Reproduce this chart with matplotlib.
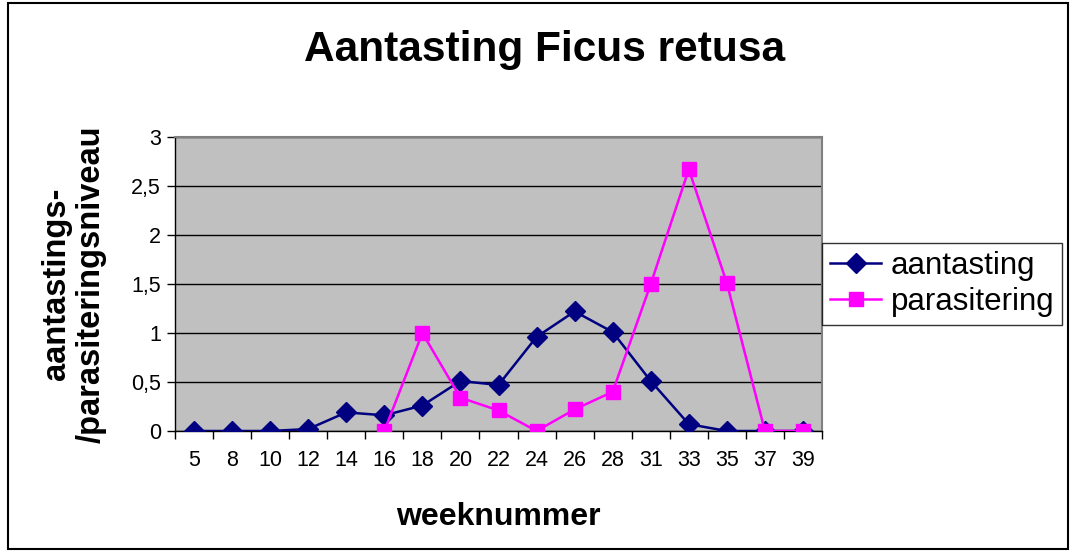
import numpy as np
import matplotlib.pyplot as plt
from matplotlib.patches import Rectangle

plt.rcParams['font.family'] = ['Liberation Sans', 'DejaVu Sans']

# week numbers (categories)
weeks = ['5', '8', '10', '12', '14', '16', '18', '20', '22', '24', '26', '28', '31', '33', '35', '37', '39']
# infestation level, all weeks
aantasting = [0, 0, 0, 0.02, 0.19, 0.16, 0.26, 0.51, 0.47, 0.96, 1.22, 1.01, 0.51, 0.07, 0, 0, 0]
# parasitism level, starts at week 16
parasitering = [np.nan] * 5 + [0, 1.0, 0.34, 0.21, 0, 0.22, 0.40, 1.5, 2.67, 1.51, 0, 0]

fig = plt.figure(figsize=(10.7, 5.51), dpi=100)
ax = fig.add_axes([175 / 1070, 1 - 431 / 551, (822 - 175) / 1070, (431 - 137) / 551])

x = np.arange(len(weeks))
ax.plot(x, aantasting, color='#000080', lw=1.8, marker='D', markersize=10,
        label='aantasting', zorder=3)
ax.plot(x, parasitering, color='#FF00FF', lw=1.8, marker='s', markersize=10,
        label='parasitering', zorder=4)

ax.set_facecolor('#C0C0C0')
ax.set_xlim(-0.5, len(weeks) - 0.5)
ax.set_ylim(0, 3)
yt = np.arange(0, 3.01, 0.5)
ax.set_yticks(yt)
ax.set_yticklabels([f'{v:g}'.replace('.', ',') for v in yt], fontsize=15.5)
ax.yaxis.grid(True, color='black', lw=1)
ax.set_axisbelow(True)

# tick marks between categories, labels under categories
ax.set_xticks(np.arange(len(weeks) + 1) - 0.5)
ax.set_xticklabels([])
ax.set_xticks(x, minor=True)
ax.set_xticklabels(weeks, minor=True, fontsize=15.5)
ax.tick_params(axis='x', which='major', length=6, width=1, direction='out')
ax.tick_params(axis='x', which='minor', length=0, pad=14)
ax.tick_params(axis='y', length=6, width=1, direction='out', pad=4)

for s in ['top', 'right']:
    ax.spines[s].set_color('#808080')
    ax.spines[s].set_linewidth(1.5)
for s in ['bottom', 'left']:
    ax.spines[s].set_color('black')
    ax.spines[s].set_linewidth(1)

ax.set_xlabel('weeknummer', fontsize=23, fontweight='bold', labelpad=22)
ax.set_ylabel('aantastings-\n/parasiteringsniveau', fontsize=23.5, fontweight='bold',
              labelpad=18, linespacing=1.15)

fig.text(545 / 1070, 1 - 50 / 551, 'Aantasting Ficus retusa', fontsize=30.5,
         fontweight='bold', ha='center', va='center')

leg = ax.legend(loc='center left', bbox_to_anchor=(1.0, 0.5), fontsize=22.5,
                frameon=True, fancybox=False, handlelength=1.65, borderpad=0.25,
                labelspacing=0.2, handletextpad=0.3, borderaxespad=0)
leg.get_frame().set_edgecolor('black')
leg.get_frame().set_linewidth(1)

# outer chart border
fig.patches.append(Rectangle((8 / 1070, 2 / 551), 1060 / 1070, 546 / 551,
                             transform=fig.transFigure, fill=False,
                             edgecolor='black', lw=1.5))

fig.savefig('out.png', dpi=100)
